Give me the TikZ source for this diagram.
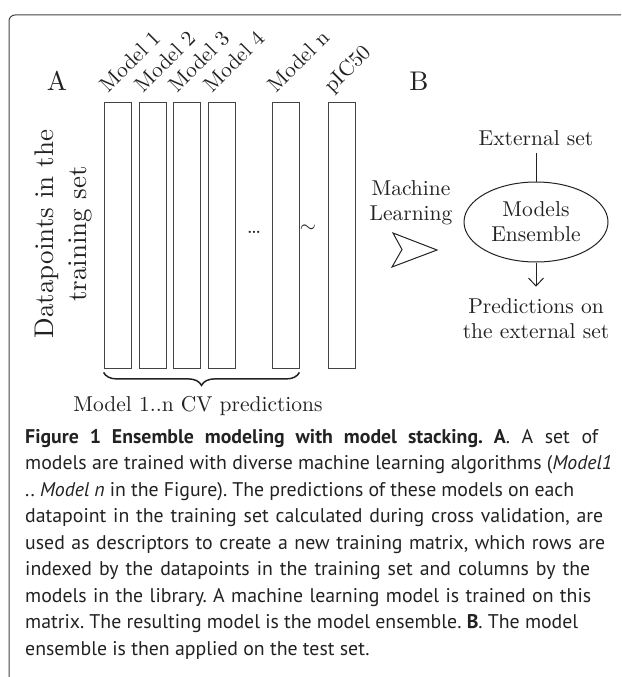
\documentclass[tikz,border=0pt]{standalone}
\usepackage{fontspec}
\setmainfont{lmroman10-regular.otf}[BoldFont=lmroman10-bold.otf, ItalicFont=lmroman10-italic.otf]
\newfontfamily\capfont{PT Sans}
\usetikzlibrary{arrows.meta,decorations.pathreplacing,shapes.geometric}
\definecolor{ink}{HTML}{222222}
\definecolor{linegray}{HTML}{444444}
\newcommand{\capl}[2]{\makebox[#1pt][s]{#2}}
\begin{document}
\begin{tikzpicture}[x=1pt,y=-1pt,
  lab/.style={font=\fontsize{21.5}{25}\selectfont, text=ink, inner sep=0pt},
  big/.style={font=\fontsize{27}{33}\selectfont, text=ink, inner sep=0pt},
  col/.style={draw=linegray, line width=0.8pt, minimum width=27pt, minimum height=266pt, inner sep=0pt},
  collab/.style={lab, rotate=45, anchor=base west},
  conn/.style={draw=ink, line width=1pt},
  capline/.style={font=\capfont\fontsize{19.8}{26.5}\selectfont\frenchspacing, text=ink, anchor=base west, inner sep=0pt},
]
\useasboundingbox (0,0) rectangle (621,677);
% frame
\draw[linegray, line width=1pt, rounded corners=6pt] (9,677) -- (9,15) -- (621,15);

% panel letters
\node[big, anchor=base] (A) at (57,90) {A};
\node[big, anchor=base] (B) at (419,90) {B};

% row label
\node[big, rotate=90, align=center] (rows) at (63,234) {Datapoints in the\\training set};

% columns
\node[col] (m1) at (117.5,235) {};
\node[col] (m2) at (152.5,235) {};
\node[col] (m3) at (187,235) {};
\node[col] (m4) at (222,235) {};
\node[col] (mn) at (285.5,235) {};
\node[col] (mp) at (341.5,235) {};

% column labels
\node[collab] (l1) at (108,94) {Model 1};
\node[collab] (l2) at (143,94) {Model 2};
\node[collab] (l3) at (177,94) {Model 3};
\node[collab] (l4) at (212,94) {Model 4};
\node[collab] (ln) at (276,94) {Model n};
\node[collab] (lp) at (332,94) {pIC50};

\node[lab, anchor=base] (dots) at (254,233) {\ldots};
\node[lab] (tl) at (308,229) {$\sim$};

% brace
\draw[ink, line width=1.5pt, decorate, decoration={brace, mirror, amplitude=13pt}]
  ([yshift=-4pt]m1.south west) -- ([yshift=-4pt]mn.south east);
\node[lab, anchor=base] (cv) at (198,411) {Model 1..n CV predictions};

% part B
\node[lab, align=center] (ml) at (411,202.5) {Machine\\Learning};
\draw[ink, line width=1pt, line join=miter] (393,233) -- (437,250) -- (392,267) -- (402,249.5) -- cycle;

\node[lab] (ext) at (536,138) {External set};
\node[lab, draw=ink, line width=1pt, ellipse, minimum width=144pt, minimum height=80pt, align=center] (ens) at (536,222) {Models\\Ensemble};
\node[lab, align=center] (pred) at (536,319) {Predictions on\\the external set};
\draw[conn, shorten <=7pt] (ext.south) -- (ens.north);
\draw[conn, shorten >=12pt, -{Straight Barb[length=8pt,width=15pt]}] (ens.south) -- (pred.north);

% caption
\node[capline] (c1) at (25,443) {\capl{573}{\textbf{Figure 1 Ensemble modeling with model stacking. A}. A set of}};
\node[capline] (c2) at (25,469.5) {\capl{587}{models are trained with diverse machine learning algorithms (\textit{Model1}}};
\node[capline] (c3) at (25,496) {\capl{549}{.. \textit{Model n} in the Figure). The predictions of these models on each}};
\node[capline] (c4) at (25,522.5) {\capl{578}{datapoint in the training set calculated during cross validation, are}};
\node[capline] (c5) at (25,549) {\capl{580}{used as descriptors to create a new training matrix, which rows are}};
\node[capline] (c6) at (25,575.5) {\capl{565}{indexed by the datapoints in the training set and columns by the}};
\node[capline] (c7) at (25,602) {\capl{566}{models in the library. A machine learning model is trained on this}};
\node[capline] (c8) at (25,628.5) {\capl{553}{matrix. The resulting model is the model ensemble. \textbf{B}. The model}};
\node[capline] (c9) at (25,655) {ensemble is then applied on the test set.};
\end{tikzpicture}
\end{document}
